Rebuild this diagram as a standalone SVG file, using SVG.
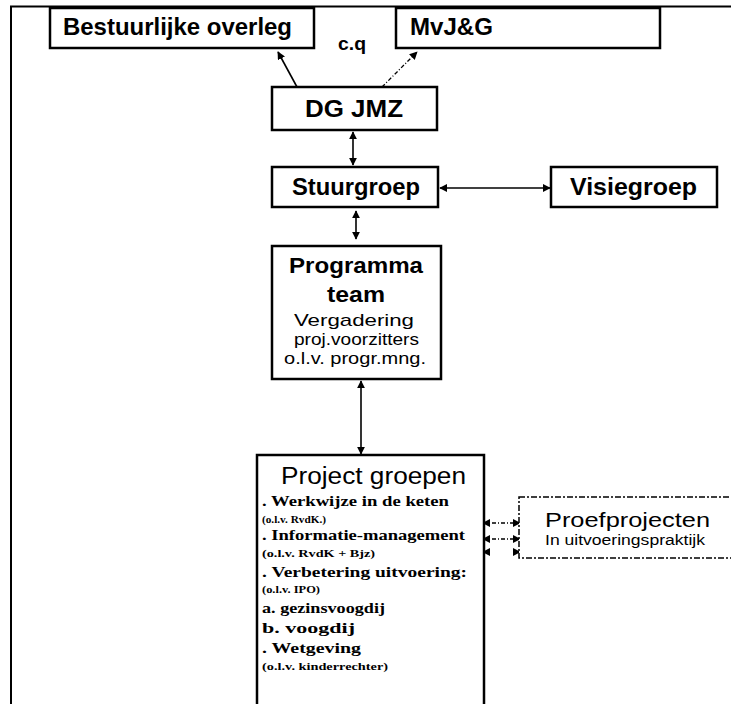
<svg xmlns="http://www.w3.org/2000/svg" width="731" height="704" viewBox="0 0 731 704">
<style>
.box{fill:#fff;stroke:#000;stroke-width:2.5}
.dbox{fill:#fff;stroke:#000;stroke-width:1.5;stroke-dasharray:6,2,2,2}
.b{font-family:"Liberation Sans",Arial,sans-serif;font-weight:bold;fill:#000}
.s{font-family:"Liberation Sans",Arial,sans-serif;fill:#000}
.t{font-family:"Liberation Serif","Times New Roman",serif;font-weight:bold;fill:#000}
.c{stroke:#000;stroke-width:1.6;fill:none}
.d{stroke:#000;stroke-width:1.3;fill:none;stroke-dasharray:4,2,1,2}
</style>
<defs>
<marker id="ah" viewBox="0 0 10 10" refX="9" refY="5" markerWidth="8" markerHeight="8" markerUnits="userSpaceOnUse" orient="auto-start-reverse">
<path d="M0,0 L10,5 L0,10 z" fill="#000"/>
</marker>
</defs>
<rect width="731" height="704" fill="#fff"/>
<line x1="10" y1="6.5" x2="731" y2="6.5" stroke="#000" stroke-width="2"/>
<line x1="11" y1="6" x2="11" y2="704" stroke="#000" stroke-width="2"/>

<g id="connectors">
<line class="c" x1="297" y1="87" x2="278" y2="52" marker-end="url(#ah)"/>
<line class="d" x1="382" y1="87" x2="417" y2="52" marker-end="url(#ah)"/>
<line class="c" x1="353" y1="132" x2="353" y2="165" marker-start="url(#ah)" marker-end="url(#ah)"/>
<line class="c" x1="440" y1="188" x2="550" y2="188" marker-start="url(#ah)" marker-end="url(#ah)"/>
<line class="c" x1="356" y1="211" x2="356" y2="239" marker-start="url(#ah)" marker-end="url(#ah)"/>
<line class="c" x1="361" y1="381" x2="361" y2="454" marker-start="url(#ah)" marker-end="url(#ah)"/>
<line class="d" x1="483" y1="523" x2="520" y2="523" marker-start="url(#ah)" marker-end="url(#ah)"/>
<line class="d" x1="483" y1="539" x2="520" y2="539" marker-start="url(#ah)" marker-end="url(#ah)"/>
<line x1="483" y1="552" x2="520" y2="552" stroke="none" marker-start="url(#ah)" marker-end="url(#ah)"/>
</g>

<g id="bestuurlijke">
<rect class="box" x="50" y="8" width="264" height="40"/>
<text class="b" x="63" y="35" font-size="23" textLength="229" lengthAdjust="spacingAndGlyphs">Bestuurlijke overleg</text>
</g>
<g id="cq">
<text class="b" x="338" y="50" font-size="18" textLength="28" lengthAdjust="spacingAndGlyphs">c.q</text>
</g>
<g id="mvjg">
<rect class="box" x="396" y="8" width="264" height="40"/>
<text class="b" x="410" y="35" font-size="23" textLength="83" lengthAdjust="spacingAndGlyphs">MvJ&amp;G</text>
</g>
<g id="dgjmz">
<rect class="box" x="272" y="87" width="165" height="43"/>
<text class="b" x="305" y="117" font-size="24" textLength="98" lengthAdjust="spacingAndGlyphs">DG JMZ</text>
</g>
<g id="stuurgroep">
<rect class="box" x="272" y="167" width="166" height="40"/>
<text class="b" x="292" y="195" font-size="23" textLength="128" lengthAdjust="spacingAndGlyphs">Stuurgroep</text>
</g>
<g id="visiegroep">
<rect class="box" x="551" y="167" width="166" height="40"/>
<text class="b" x="570" y="195" font-size="23" textLength="127" lengthAdjust="spacingAndGlyphs">Visiegroep</text>
</g>
<g id="programmateam">
<rect class="box" x="272" y="246" width="169" height="133"/>
<text class="b" x="289" y="273" font-size="22" textLength="134" lengthAdjust="spacingAndGlyphs">Programma</text>
<text class="b" x="327" y="302" font-size="22" textLength="58" lengthAdjust="spacingAndGlyphs">team</text>
<text class="s" x="294" y="326" font-size="17" textLength="120" lengthAdjust="spacingAndGlyphs">Vergadering</text>
<text class="s" x="294" y="345" font-size="17" textLength="125" lengthAdjust="spacingAndGlyphs">proj.voorzitters</text>
<text class="s" x="284" y="364" font-size="17" textLength="142" lengthAdjust="spacingAndGlyphs">o.l.v. progr.mng.</text>
</g>
<g id="projectgroepen">
<rect class="box" x="257" y="455" width="227" height="270"/>
<text class="s" x="281" y="484" font-size="23" textLength="185" lengthAdjust="spacingAndGlyphs">Project groepen</text>
<text class="t" x="262" y="506" font-size="14" textLength="187" lengthAdjust="spacingAndGlyphs">. Werkwijze in de keten</text>
<text class="t" x="262" y="523" font-size="11" textLength="64" lengthAdjust="spacingAndGlyphs">(o.l.v. RvdK.)</text>
<text class="t" x="262" y="540" font-size="14" textLength="203" lengthAdjust="spacingAndGlyphs">. Informatie-management</text>
<text class="t" x="262" y="557" font-size="11" textLength="113" lengthAdjust="spacingAndGlyphs">(o.l.v. RvdK + Bjz)</text>
<text class="t" x="262" y="577" font-size="14" textLength="205" lengthAdjust="spacingAndGlyphs">. Verbetering uitvoering:</text>
<text class="t" x="262" y="593" font-size="11" textLength="58" lengthAdjust="spacingAndGlyphs">(o.l.v. IPO)</text>
<text class="t" x="262" y="613" font-size="14" textLength="123" lengthAdjust="spacingAndGlyphs">a. gezinsvoogdij</text>
<text class="t" x="262" y="633" font-size="14" textLength="93" lengthAdjust="spacingAndGlyphs">b. voogdij</text>
<text class="t" x="262" y="653" font-size="14" textLength="99" lengthAdjust="spacingAndGlyphs">. Wetgeving</text>
<text class="t" x="262" y="670" font-size="11" textLength="126" lengthAdjust="spacingAndGlyphs">(o.l.v. kinderrechter)</text>
</g>
<g id="proefprojecten">
<rect class="dbox" x="519" y="497" width="240" height="61"/>
<text class="s" x="545" y="527" font-size="20" textLength="165" lengthAdjust="spacingAndGlyphs">Proefprojecten</text>
<text class="s" x="545" y="545" font-size="14" textLength="160" lengthAdjust="spacingAndGlyphs">In uitvoeringspraktijk</text>
</g>
</svg>
